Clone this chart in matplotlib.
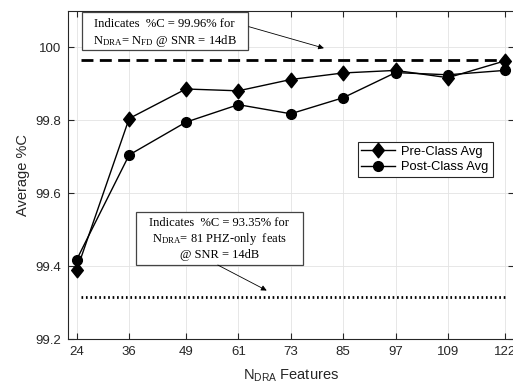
import matplotlib
matplotlib.use('Agg')
from matplotlib import pyplot as plt
from matplotlib.patches import Rectangle
from matplotlib.path import Path

plt.rcParams['font.family'] = ['Liberation Sans', 'DejaVu Sans']
plt.rcParams['mathtext.fontset'] = 'custom'
plt.rcParams['mathtext.rm'] = 'Liberation Serif'
plt.rcParams['mathtext.sf'] = 'Liberation Sans'

# data
n_dra = [24, 36, 49, 61, 73, 85, 97, 109, 122]
pre_class = [99.389, 99.805, 99.886, 99.881, 99.912, 99.930, 99.937, 99.917, 99.963]
post_class = [99.418, 99.705, 99.795, 99.843, 99.818, 99.862, 99.931, 99.925, 99.937]
full_level = 99.966   # N_DRA = N_FD
phz_level = 99.316    # 81 PHZ-only feats
level_span = [25, 122]

# diamond a bit wider than 'd'
diamond = Path([(0, 1), (0.8, 0), (0, -1), (-0.8, 0), (0, 1)],
               [Path.MOVETO, Path.LINETO, Path.LINETO, Path.LINETO, Path.CLOSEPOLY])

fig = plt.figure(figsize=(5.13, 3.87), dpi=100)
ax = fig.add_axes([68/513, 48/387, 445.5/513, 328/387])

ax.plot(level_span, [full_level]*2, '--', color='k', lw=2, dashes=(4.3, 2.3))
ax.plot(level_span, [phz_level]*2, ':', color='k', lw=2, dashes=(0.6, 1.0))
ax.plot(n_dra, pre_class, '-', marker=diamond, color='k', lw=1, ms=10.5, label='Pre-Class Avg')
ax.plot(n_dra, post_class, '-o', color='k', lw=1, ms=7, label='Post-Class Avg')

ax.set_xlim(22, 124)
ax.set_ylim(99.2, 100.1)
ax.set_xticks(n_dra)
ax.set_yticks([99.2, 99.4, 99.6, 99.8, 100])
ax.set_yticklabels(['99.2', '99.4', '99.6', '99.8', '100'])
ax.grid(True, color='#e3e3e3', lw=0.6)
ax.set_axisbelow(True)
ax.tick_params(direction='in', top=True, right=True, length=4, labelsize=9.5,
               colors='#262626', pad=5)
for s in ax.spines.values():
    s.set_color('#262626')
    s.set_linewidth(0.8)

ax.set_ylabel('Average %C', fontsize=10.5, color='#262626', labelpad=4)
ax.set_xlabel(r'$\mathsf{N_{DRA}}$ Features', fontsize=10.5, color='#262626', labelpad=7)

arr = dict(arrowstyle='-|>', color='k', lw=0.6, mutation_scale=8, shrinkA=0, shrinkB=0)

# note boxes
ax.add_patch(Rectangle((25.14, 99.993), 38.0, 0.105, fc='white', ec='#444444', lw=0.9, zorder=3))
ax.text(44.15, 100.038,
        'Indicates  %C = 99.96% for\n' + r'$\mathrm{N_{DRA}}$= $\mathrm{N_{FD}}$ @ SNR = 14dB',
        family='Liberation Serif', fontsize=9.1, ha='center', va='center',
        linespacing=1.25, zorder=4)
ax.annotate('', xy=(80.6, 99.998), xytext=(63.4, 100.057), arrowprops=arr)

ax.add_patch(Rectangle((37.5, 99.404), 38.25, 0.144, fc='white', ec='#444444', lw=0.9, zorder=3))
ax.text(56.6, 99.474,
        'Indicates  %C = 93.35% for\n' + r'$\mathrm{N_{DRA}}$= 81 PHZ-only  feats' + '\n@ SNR = 14dB',
        family='Liberation Serif', fontsize=9.0, ha='center', va='center',
        linespacing=1.2, zorder=4)
ax.annotate('', xy=(67.5, 99.333), xytext=(56.3, 99.403), arrowprops=arr)

leg = ax.legend(loc='upper right', bbox_to_anchor=(0.953, 0.601), borderaxespad=0,
                fontsize=9.3, fancybox=False, framealpha=1, edgecolor='#262626',
                handlelength=2.6, borderpad=0.3, labelspacing=0.25, handletextpad=0.5)
leg.get_frame().set_linewidth(0.8)

fig.savefig('out.png', dpi=100)
